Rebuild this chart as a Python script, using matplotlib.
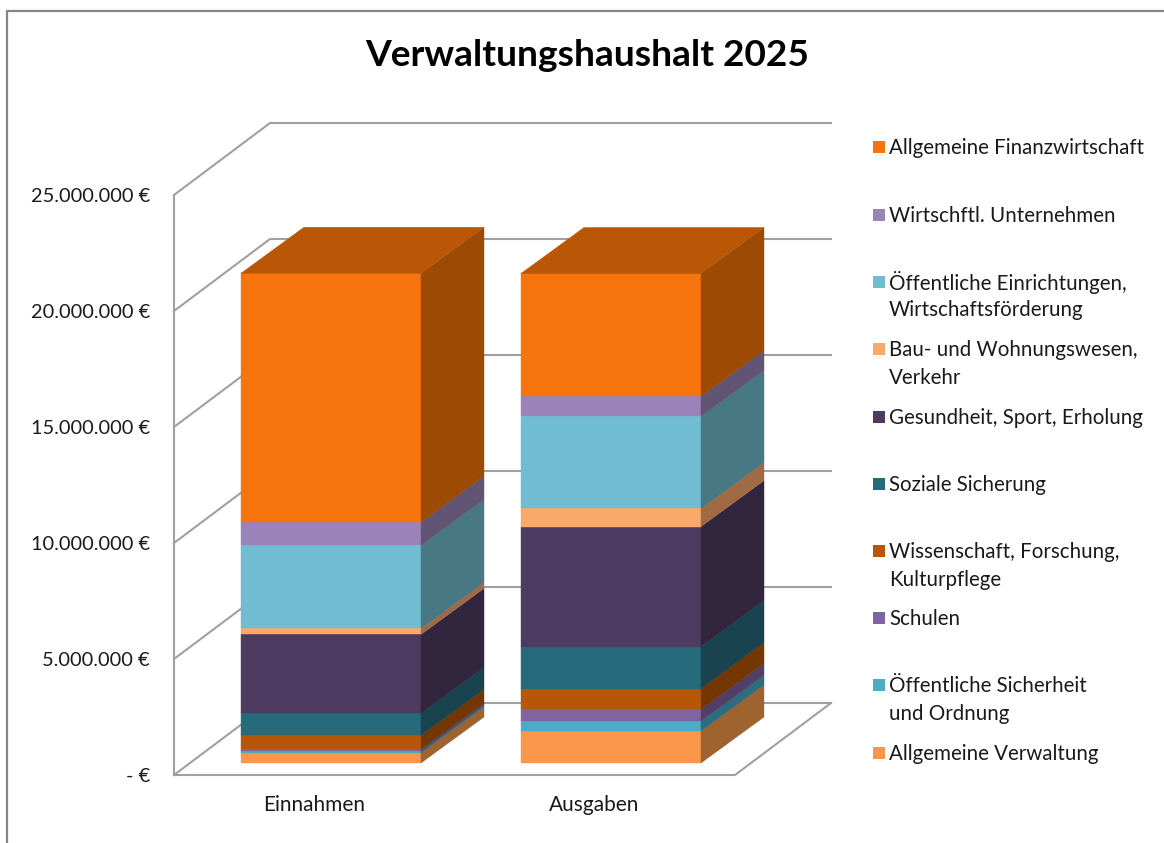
import matplotlib
matplotlib.use("Agg")
import matplotlib.pyplot as plt
import numpy as np

plt.rcParams['font.family'] = ['Lato', 'DejaVu Sans']

categories = ["Einnahmen", "Ausgaben"]
series_names = [
    "Allgemeine Verwaltung", "Öffentliche Sicherheit\nund Ordnung", "Schulen",
    "Wissenschaft, Forschung,\nKulturpflege", "Soziale Sicherung",
    "Gesundheit, Sport, Erholung", "Bau- und Wohnungswesen,\nVerkehr",
    "Öffentliche Einrichtungen,\nWirtschaftsförderung", "Wirtschftl. Unternehmen",
    "Allgemeine Finanzwirtschaft",
]
einnahmen = [430000, 80000, 80000, 600000, 950000, 3400000, 260000, 3580000, 1000000, 10730000]
ausgaben = [1380000, 430000, 500000, 900000, 1810000, 5170000, 780000, 3970000, 860000, 5300000]
y_ticks = [0, 5000000, 10000000, 15000000, 20000000, 25000000]
y_labels = ["- €", "5.000.000 €", "10.000.000 €", "15.000.000 €", "20.000.000 €", "25.000.000 €"]

front_colors = ["#F9964A", "#4BACC6", "#8064A2", "#B65708", "#276A7C",
                "#4D3B62", "#F9A96A", "#70BDD3", "#9A83B8", "#F6740B"]
side_colors = ["#9F632F", "#2F6D7E", "#523F67", "#743704", "#19434F",
               "#32263F", "#A06B44", "#477883", "#625475", "#9C4A04"]
top_color = "#BA5707"
line_color = "#A0A0A0"
text_color = "#1A1A1A"

W, H = 1164, 843
PX = 25000000 / 580  # euros per pixel
Y0 = 775  # pixel row of zero


def py(row):
    # pixel row to axis value
    return (Y0 - row) * PX


fig = plt.figure(figsize=(W / 100, H / 100), dpi=100)
ax = fig.add_axes([0, 0, 1, 1])
ax.set_xlim(0, W)
ax.set_ylim(py(H), py(0))
ax.axis("off")

# chart frame, only top and left are visible in the crop
ax.plot([6.5, 6.5, W], [py(H), py(10.5), py(10.5)], color="#868686", lw=1.6, solid_joinstyle="miter")

# walls and floor, kept behind the bars
wall_dx, wall_dy = 96, 72 * PX
left, right_front, right_back = 174, 735, 831
for t in y_ticks:
    ax.plot([left, left + wall_dx, right_back], [t, t + wall_dy, t + wall_dy], color=line_color, lw=1.5, zorder=0.5)
ax.plot([left, left], [y_ticks[0], y_ticks[-1]], color=line_color, lw=1.5, zorder=0.5)
ax.plot([left, right_front, right_back], [0, 0, wall_dy], color=line_color, lw=1.5, zorder=0.5)

for t, lab in zip(y_ticks, y_labels):
    ax.text(150, t - 1.5 * PX, lab, ha="right", va="center", fontsize=14.4, color=text_color)

# bars
bar_w, depth_x, depth_y = 180, 63, 46 * PX
base = 12 * PX
for x0, name, vals in zip([241, 521], categories, [einnahmen, ausgaben]):
    bottoms = base + np.concatenate([[0], np.cumsum(vals)[:-1]])
    x1 = x0 + bar_w
    for b, v, fc, sc in zip(bottoms, vals, front_colors, side_colors):
        ax.fill([x0, x1, x1, x0], [b, b, b + v, b + v], color=fc, lw=0.3)
        ax.fill([x1, x1 + depth_x, x1 + depth_x, x1],
                [b, b + depth_y, b + v + depth_y, b + v], color=sc, lw=0.3)
    top = base + sum(vals)
    ax.fill([x0, x1, x1 + depth_x, x0 + depth_x], [top, top, top + depth_y, top + depth_y],
            color=top_color, lw=0.3)
    ax.text(x0 + bar_w / 2 - 17, py(805), name, ha="center", va="center", fontsize=15, color=text_color)

ax.text(587, py(56), "Verwaltungshaushalt 2025", ha="center", va="center",
        fontsize=26.7, fontweight="bold", color="black")

# legend, rows are uneven so it is placed by hand
legend_rows = [753, 685, 618, 551, 484, 417, 349, 282, 215, 147]
for row, name, fc in zip(legend_rows, series_names, front_colors):
    ax.fill([873, 885, 885, 873], [py(row + 6), py(row + 6), py(row - 6), py(row - 6)], color=fc, lw=0)
    for i, line in enumerate(name.split("\n")):
        ax.text(889, py(row + 1 + i * 27.5), line, ha="left", va="center", fontsize=14.8, color=text_color)

fig.savefig("out.png", dpi=100)
